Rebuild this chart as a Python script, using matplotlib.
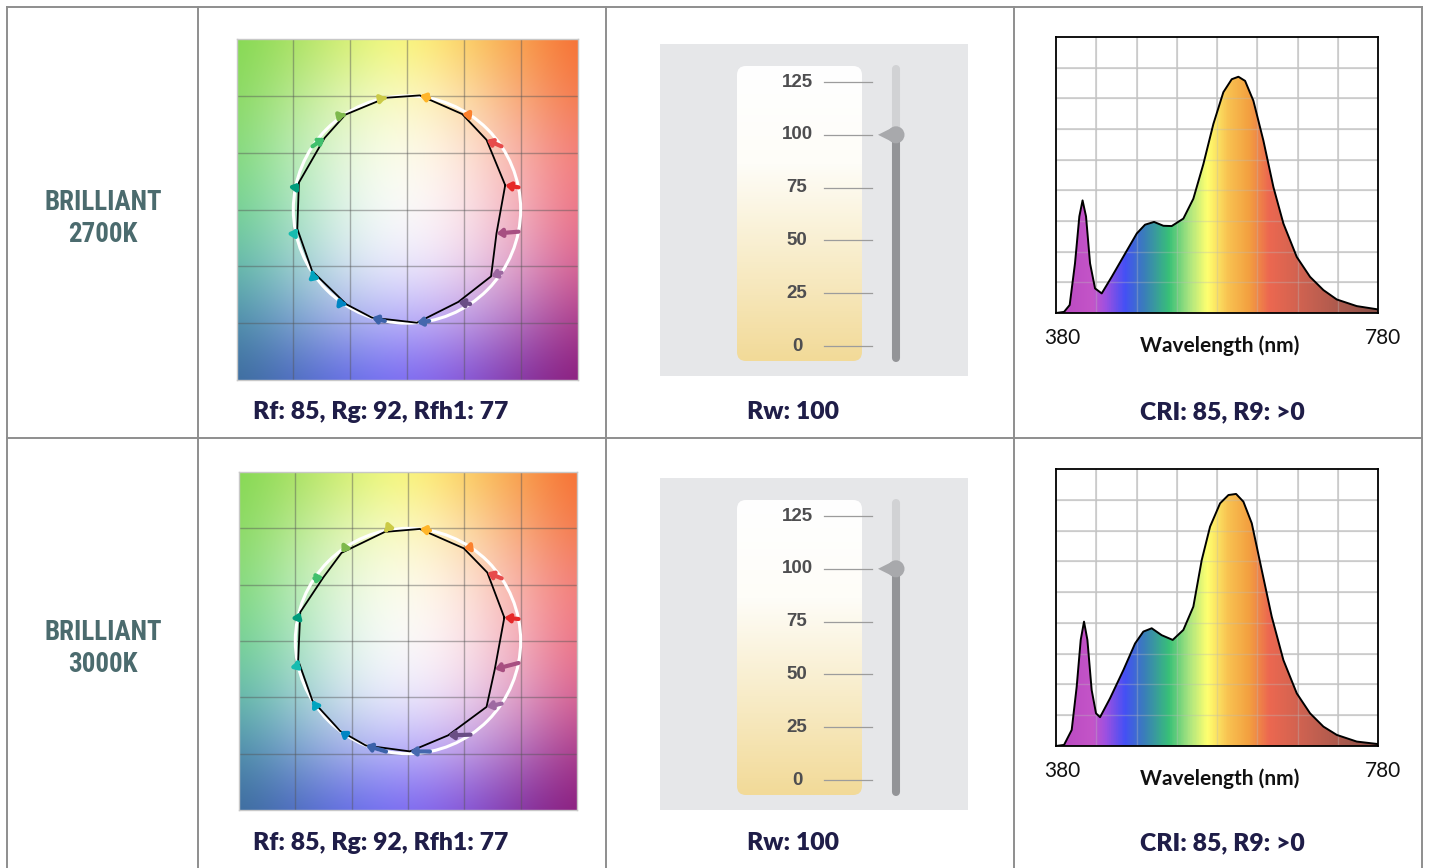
import numpy as np
import matplotlib
matplotlib.use("Agg")
import matplotlib.pyplot as plt
import matplotlib.font_manager as fm
from matplotlib.colors import to_rgb, LinearSegmentedColormap
from matplotlib.patches import Circle, FancyArrowPatch, FancyBboxPatch, Polygon, Ellipse

W, H = 1430, 868

# ---- data ----
row_names = [("BRILLIANT", "2700K"), ("BRILLIANT", "3000K")]
tm30_captions = ["Rf: 85, Rg: 92, Rfh1: 77", "Rf: 85, Rg: 92, Rfh1: 77"]
rw_captions = ["Rw: 100", "Rw: 100"]
cri_captions = ["CRI: 85, R9: >0", "CRI: 85, R9: >0"]
rw_values = [100, 100]
rw_ticks = [0, 25, 50, 75, 100, 125]

# TM-30 colour vector graphic: 16 hue bins, test vertex radius / angle (deg)
bin_colors = ["#e62828", "#e74b4b", "#fb812e", "#ffb529", "#cbca46", "#7eb94c",
              "#41c06d", "#009c7c", "#16bcb0", "#00a4bf", "#0085c3", "#3b62aa",
              "#4568ae", "#6a4e85", "#9d69a1", "#a74f81"]
test_r_2700 = [0.89, 0.93, 0.97, 1.01, 1.00, 0.995, 0.96, 0.98,
               0.98, 0.995, 0.99, 1.00, 1.00, 0.93, 0.945, 0.815]
test_ang_2700 = [13.9, 41.2, 60.0, 83.6, 100.5, 123.0, 139.0, 166.0,
                 190.0, 213.0, 237.5, 252.0, 275.0, 299.0, 321.5, 345.0]
test_r_3000 = [0.88, 0.93, 0.96, 1.00, 0.99, 0.98, 0.94, 0.99,
               0.99, 1.00, 1.00, 1.00, 0.98, 0.91, 0.91, 0.81]
test_ang_3000 = [13.7, 40.8, 59.0, 84.0, 102.0, 127.0, 143.0, 165.0,
                 190.0, 212.0, 233.0, 248.0, 271.0, 293.0, 320.0, 342.0]

# spectral power distributions (relative, fraction of plot height)
wl_2700 = [380, 390, 397, 403.6, 409, 413, 417.3, 422.3, 428.5, 436.8, 449.2, 465.8,
           480.3, 490.6, 501.8, 513.4, 523.7, 538.2, 550.6, 563.1, 575.5, 587.9,
           598.3, 606.6, 614.9, 625.2, 637.6, 650.1, 662.5, 679.1, 695.6, 712.2,
           728.8, 753.6, 780]
spd_2700 = [0.0, 0.004, 0.029, 0.18, 0.35, 0.408, 0.35, 0.18, 0.089, 0.071, 0.131, 0.215,
            0.288, 0.32, 0.33, 0.316, 0.315, 0.342, 0.414, 0.54, 0.685, 0.80,
            0.847, 0.856, 0.841, 0.769, 0.625, 0.456, 0.324, 0.203, 0.131, 0.083,
            0.049, 0.025, 0.013]
wl_3000 = [380, 390, 399.5, 405.7, 410.7, 414.8, 419, 424.3, 429.7, 434.7, 447.1, 463.7,
           478.2, 488.5, 498.9, 511.3, 525, 538.2, 550.6, 561, 571.4, 583.8,
           594.2, 603.7, 612.8, 623.2, 635.6, 648, 662.5, 679.1, 695.6, 712.2,
           728.8, 753.6, 780]
spd_3000 = [0.0, 0.004, 0.058, 0.214, 0.383, 0.449, 0.383, 0.202, 0.118, 0.104, 0.172, 0.274,
            0.37, 0.413, 0.425, 0.40, 0.383, 0.419, 0.503, 0.671, 0.792, 0.876,
            0.906, 0.91, 0.882, 0.804, 0.635, 0.467, 0.31, 0.19, 0.118, 0.07,
            0.04, 0.016, 0.007]

rows = [
    dict(r=test_r_2700, ang=test_ang_2700, wl=wl_2700, spd=spd_2700),
    dict(r=test_r_3000, ang=test_ang_3000, wl=wl_3000, spd=spd_3000),
]


def has_font(name):
    try:
        fm.findfont(fm.FontProperties(family=name), fallback_to_default=False)
        return True
    except ValueError:
        return False


title_font = "DejaVu Sans"
for cand in ["Liberation Sans Narrow", "Roboto Condensed", "Open Sans Condensed",
             "Noto Sans Condensed", "DejaVu Sans Condensed"]:
    if has_font(cand):
        title_font = cand
        break
text_font = ["Lato", "DejaVu Sans"]

fig = plt.figure(figsize=(W / 100, H / 100), dpi=100)
fig.patch.set_facecolor("white")

# pixel overlay for the table and labels
ax0 = fig.add_axes([0, 0, 1, 1])
ax0.set_xlim(0, W)
ax0.set_ylim(H, 0)
ax0.axis("off")


def px_axes(x0, y0, x1, y1):
    return fig.add_axes([x0 / W, 1 - y1 / H, (x1 - x0) / W, (y1 - y0) / H])


# table grid
grid_c = "#8e8e8e"
for x in [7, 198, 606, 1014, 1422]:
    ax0.plot([x, x], [6, H], color=grid_c, lw=1.4, solid_capstyle="butt")
for y in [7, 438]:
    ax0.plot([6, 1423], [y, y], color=grid_c, lw=1.4, solid_capstyle="butt")

# ---- background of colour vector graphic: colours at the grid nodes ----
bg_hex = [
    ["#80d850", "#a8e060", "#d8f070", "#fdfb78", "#fcd060", "#f8a048", "#f76a30"],
    ["#88d860", "#b8e890", "#e8f8b8", "#fefcc8", "#fce0a8", "#f8a878", "#f47848"],
    ["#80d878", "#b8ecb8", "#eef8e0", "#fffff0", "#fde8dc", "#f8b0a8", "#f27a78"],
    ["#70d090", "#a8e4c0", "#e8f6ee", "#ffffff", "#fce8ec", "#f4b0bc", "#ee7080"],
    ["#60b8a8", "#98cfd0", "#dde8f4", "#f0eeff", "#f0d8f0", "#e0a0c8", "#d86090"],
    ["#4a8aa8", "#7aa0d0", "#aab0ec", "#b8b0ff", "#c0a0e8", "#b070c0", "#a83888"],
    ["#3a6a98", "#4a68c0", "#6068e8", "#7a68f5", "#8050d8", "#8030a0", "#8a1a7a"],
]
bg = np.array([[to_rgb(c) for c in row] for row in bg_hex])

# spectrum colour map
wl_stops = [380, 425, 440, 465, 490, 520, 545, 568, 595, 620, 645, 700, 780]
wl_hex = ["#b848c0", "#c455c8", "#a050e0", "#4450f5", "#3a80b8", "#38c078", "#a8e480",
          "#ffff70", "#f8c050", "#f3a040", "#ec6850", "#c46050", "#8a5048"]
spec_cmap = LinearSegmentedColormap.from_list(
    "spec", [((w - 380) / 400, c) for w, c in zip(wl_stops, wl_hex)])

slider_cmap = LinearSegmentedColormap.from_list("rw", ["#f2da98", "#f8ecc8", "#fefdf8", "#ffffff"])

cvg_boxes = [(236, 39, 578, 380), (238, 472, 578, 810)]
slider_boxes = [(660, 44, 968, 376), (660, 478, 968, 810)]
spec_boxes = [(1056, 37, 1378, 313), (1056, 469, 1378, 746)]
row_tops = [7, 438]

title_texts = []
for i, d in enumerate(rows):
    top = row_tops[i]

    # row label, two lines
    for j, line in enumerate(row_names[i]):
        t = ax0.text(103, top + 195 + 32 * j, line, ha="center", va="center", color="#4b6b6e",
                     fontsize=26, fontweight="bold", family=title_font, fontstretch="condensed")
        title_texts.append(t)

    # captions
    for xc, txt in [(381, tm30_captions[i]), (793, rw_captions[i]), (1222, cri_captions[i])]:
        ax0.text(xc, top + 405, txt, ha="center", va="center", color="#1f1d48",
                 fontsize=17.8, fontweight="heavy", family=text_font)

    # ---- colour vector graphic ----
    ax = px_axes(*cvg_boxes[i])
    ax.imshow(bg, extent=(-1.75, 1.75, -1.75, 1.75), origin="upper", interpolation="bicubic")
    for g in [-1, -0.5, 0, 0.5, 1]:
        ax.axvline(g, color="#555555", lw=1.0, alpha=0.45)
        ax.axhline(g, color="#555555", lw=1.0, alpha=0.45)
    ax.add_patch(Circle((0, 0), 1.0, fill=False, ec="white", lw=2.2, zorder=3))
    ang_t = np.radians(d["ang"])
    tx = np.array(d["r"]) * np.cos(ang_t)
    ty = np.array(d["r"]) * np.sin(ang_t)
    ax.plot(np.append(tx, tx[0]), np.append(ty, ty[0]), color="black", lw=1.3, zorder=4)
    for k in range(16):
        a_ref = np.radians(11.25 + 22.5 * k)
        p0 = (np.cos(a_ref), np.sin(a_ref))
        arr = FancyArrowPatch(p0, (tx[k], ty[k]), arrowstyle="-|>,head_length=0.3,head_width=0.22",
                              mutation_scale=10, lw=3.0, color=bin_colors[k], zorder=5,
                              shrinkA=0, shrinkB=0)
        ax.add_patch(arr)
    ax.set_xlim(-1.5, 1.5)
    ax.set_ylim(-1.5, 1.5)
    ax.set_xticks([])
    ax.set_yticks([])
    for sp in ax.spines.values():
        sp.set_color("#c8c8c8")
        sp.set_linewidth(1.0)

    # ---- Rw slider ----
    sx0, sy0, sx1, sy1 = slider_boxes[i]
    axs = px_axes(sx0, sy0, sx1, sy1)
    axs.set_xlim(0, sx1 - sx0)
    axs.set_ylim(-14.2, 143.0)
    axs.set_facecolor("#e6e7e9")
    for sp in axs.spines.values():
        sp.set_visible(False)
    axs.set_xticks([])
    axs.set_yticks([])
    ppu = 2.112  # pixels per Rw unit
    box = FancyBboxPatch((77, -7.1), 125, 139.7, boxstyle="round,pad=0,rounding_size=9",
                         mutation_aspect=1 / ppu, fc="none", ec="none")
    axs.add_patch(box)
    grad = np.linspace(0, 1, 256).reshape(-1, 1)
    im = axs.imshow(grad, cmap=slider_cmap, extent=(77, 202, -7.1, 132.6), origin="lower",
                    aspect="auto", zorder=1)
    im.set_clip_path(box)
    for tv in rw_ticks:
        axs.text(137, tv, str(tv), ha="center", va="center", fontsize=13.5, fontweight="bold",
                 color="#4e4e50", family=["Liberation Sans", "DejaVu Sans"], zorder=3)
        axs.plot([164, 212], [tv, tv], color="#9c9c9c", lw=0.9, zorder=2)
    rw = rw_values[i]
    axs.plot([236, 236], [rw, 131.2], color="#d1d2d4", lw=5.8, solid_capstyle="round", zorder=2)
    axs.plot([236, 236], [-5.7, rw], color="#939497", lw=5.8, solid_capstyle="round", zorder=2)
    axs.add_patch(Polygon([(218, rw), (234, rw + 8 / ppu), (234, rw - 8 / ppu)],
                          closed=True, fc="#a8a9ac", ec="none", zorder=4))
    axs.add_patch(Ellipse((236, rw), 17, 17 / ppu, fc="#a8a9ac", ec="none", zorder=4))

    # ---- spectrum ----
    axp = px_axes(*spec_boxes[i])
    wl = np.array(d["wl"])
    spd = np.array(d["spd"])
    poly = Polygon(np.column_stack([np.r_[wl, 780, 380], np.r_[spd, 0, 0]]), closed=True,
                   fc="none", ec="none")
    axp.add_patch(poly)
    gimg = np.linspace(0, 1, 400).reshape(1, -1)
    ims = axp.imshow(gimg, cmap=spec_cmap, extent=(380, 780, 0, 1), origin="lower",
                     aspect="auto", zorder=1)
    ims.set_clip_path(poly)
    xg = np.arange(430, 780, 50)
    yg = np.arange(1, 9) / 9
    axp.set_xticks(xg)
    axp.set_yticks(yg)
    axp.grid(True, color="#cdcdcd", lw=1.2, zorder=0)
    axp.set_axisbelow(True)
    for xv in xg:
        axp.axvline(xv, color="#bbbbbb", lw=1.0, alpha=0.35, zorder=2)
    for yv in yg:
        axp.axhline(yv, color="#bbbbbb", lw=1.0, alpha=0.35, zorder=2)
    axp.tick_params(length=0, labelbottom=False, labelleft=False)
    axp.plot(wl, spd, color="black", lw=1.4, zorder=3)
    axp.set_xlim(380, 780)
    axp.set_ylim(0, 1)
    for sp in axp.spines.values():
        sp.set_color("black")
        sp.set_linewidth(1.3)
        sp.set_zorder(4)

    sb = spec_boxes[i]
    ax0.text(1062, sb[3] + 25, "380", ha="center", va="center", fontsize=15,
             family=text_font, color="#111111")
    ax0.text(1383, sb[3] + 25, "780", ha="center", va="center", fontsize=15,
             family=text_font, color="#111111")
    ax0.text(1220, sb[3] + 33, "Wavelength (nm)", ha="center", va="center", fontsize=15,
             fontweight="bold", family=text_font, color="#111111")

# fit the condensed row labels to the width of the reference lettering
fig.canvas.draw()
renderer = fig.canvas.get_renderer()
w_ref = title_texts[0].get_window_extent(renderer).width
scale = min(1.0, 118 / w_ref)
for t in title_texts:
    t.set_fontsize(t.get_fontsize() * scale)

fig.savefig("out.png", dpi=100)
